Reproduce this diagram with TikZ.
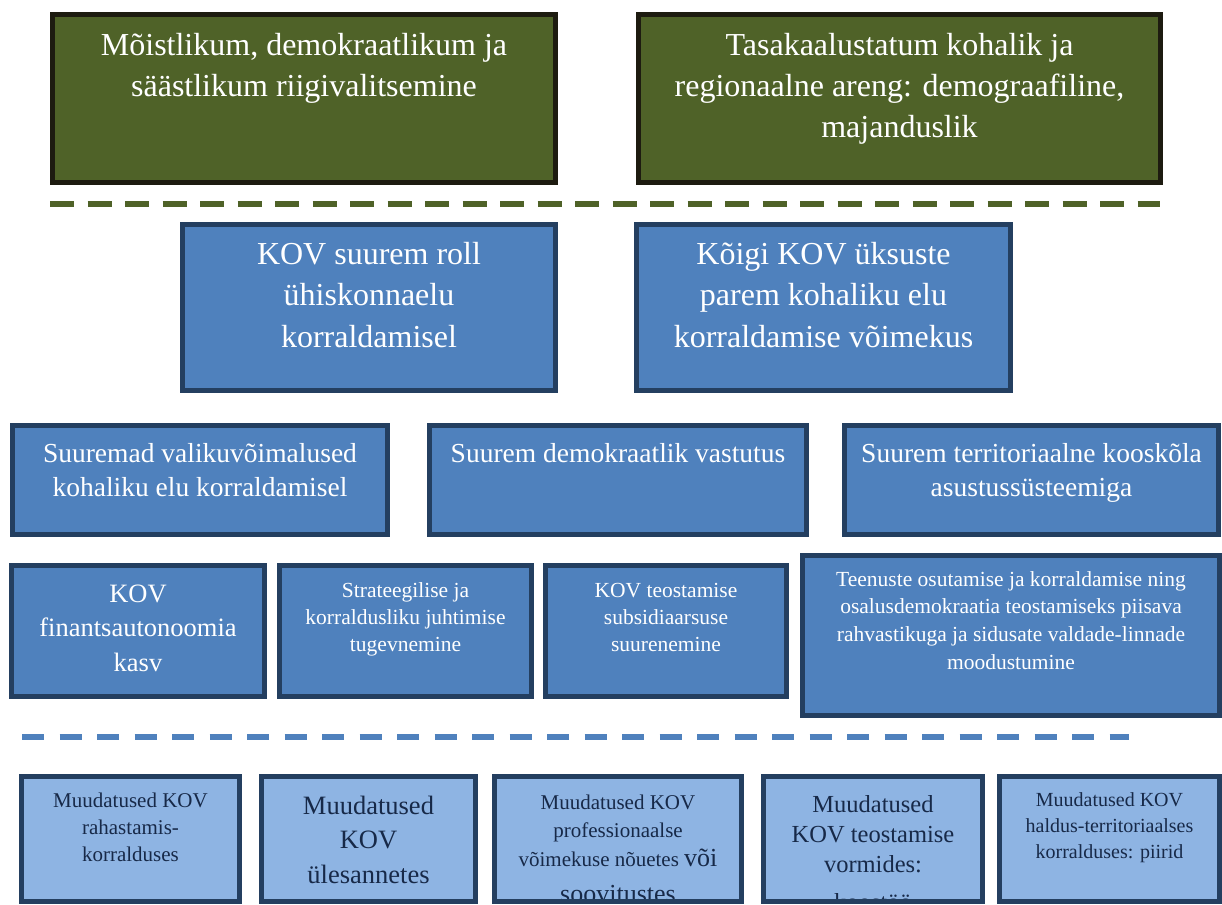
\documentclass[tikz,border=0pt]{standalone}
\usepackage{fontspec}
\setmainfont{Liberation Serif}
\usepackage{tikz}

\definecolor{goalgreen}{RGB}{79,98,40}
\definecolor{goaledge}{RGB}{29,27,16}
\definecolor{aimblue}{RGB}{79,129,189}
\definecolor{navyedge}{RGB}{36,63,96}
\definecolor{changeblue}{RGB}{142,180,227}
\definecolor{changetext}{RGB}{23,41,72}

\tikzset{
	panel/.style={rectangle, inner sep=0pt, outer sep=0pt, line width=5pt},
	goalbox/.style={panel, draw=goaledge, fill=goalgreen},
	aimbox/.style={panel, draw=navyedge, fill=aimblue},
	changebox/.style={panel, draw=navyedge, fill=changeblue},
	txt/.style={anchor=north, align=center, inner sep=0pt, text=white},
	darktxt/.style={txt, text=changetext},
	sepline/.style={line width=6pt, dash pattern=on 22pt off 15.5pt}
}

\begin{document}
\begin{tikzpicture}[x=1pt, y=-1pt]
		\useasboundingbox (0,0) rectangle (1222,904);
		\clip (0,0) rectangle (1222,904);

		\node[goalbox, minimum width=503, minimum height=168] (g1) at (304,98.5) {};
		\node[goalbox, minimum width=522, minimum height=168] (g2) at (899.5,98.5) {};
		\node[txt, font=\fontsize{32}{41}\selectfont] (g1t) at (304,26.3) {\strut Mõistlikum, demokraatlikum ja\\ säästlikum riigivalitsemine};
		\node[txt, font=\fontsize{32}{41}\selectfont] (g2t) at (899.5,26.3) {\strut Tasakaalustatum kohalik ja\\ regionaalne areng: demograafiline,\\ majanduslik};

		\coordinate (gl) at (50,204);
		\coordinate (gr) at (1160,204);
		\draw[sepline, goalgreen, dash pattern=on 24pt off 13.5pt] (gl) -- (gr);

		\node[aimbox, minimum width=373, minimum height=166] (a1) at (369,307.5) {};
		\node[aimbox, minimum width=374, minimum height=166] (a2) at (823.5,307.5) {};
		\node[txt, font=\fontsize{32}{41.5}\selectfont] (a1t) at (369,235) {\strut KOV suurem roll\\ ühiskonnaelu\\ korraldamisel};
		\node[txt, font=\fontsize{32}{41.5}\selectfont] (a2t) at (823.5,235) {\strut Kõigi KOV üksuste\\ parem kohaliku elu\\ korraldamise võimekus};

		\node[aimbox, minimum width=375, minimum height=109] (b1) at (200,480) {};
		\node[aimbox, minimum width=377, minimum height=109] (b2) at (618,480) {};
		\node[aimbox, minimum width=374, minimum height=109] (b3) at (1031.5,480) {};
		\node[txt, font=\fontsize{27.5}{34.5}\selectfont] (b1t) at (200,437.8) {\strut Suuremad valikuvõimalused\\ kohaliku elu korraldamisel};
		\node[txt, font=\fontsize{27.5}{34.5}\selectfont] (b2t) at (618,437.8) {\strut Suurem demokraatlik vastutus};
		\node[txt, font=\fontsize{27.5}{34.5}\selectfont] (b3t) at (1031.5,437.8) {\strut Suurem territoriaalne kooskõla\\ asustussüsteemiga};

		\node[aimbox, minimum width=253, minimum height=131] (c1) at (138,631) {};
		\node[aimbox, minimum width=252, minimum height=131] (c2) at (405.5,631) {};
		\node[aimbox, minimum width=241, minimum height=131] (c3) at (666,631) {};
		\node[aimbox, minimum width=417, minimum height=160] (c4) at (1011,635.5) {};
		\node[txt, font=\fontsize{26.5}{34.5}\selectfont] (c1t) at (138,577.8) {\strut KOV\\ finantsautonoomia\\ kasv};
		\node[txt, font=\fontsize{21.5}{27}\selectfont] (c2t) at (405.5,578.1) {\strut Strateegilise ja\\ korraldusliku juhtimise\\ tugevnemine};
		\node[txt, font=\fontsize{21.5}{27}\selectfont] (c3t) at (666,578.1) {\strut KOV teostamise\\ subsidiaarsuse\\ suurenemine};
		\node[txt, font=\fontsize{21.5}{27.7}\selectfont] (c4t) at (1011,566.6) {\strut Teenuste osutamise ja korraldamise ning\\ osalusdemokraatia teostamiseks piisava\\ rahvastikuga ja sidusate valdade-linnade\\ moodustumine};

		\coordinate (bl) at (22,737);
		\coordinate (br) at (1129,737);
		\draw[sepline, aimblue] (bl) -- (br);

		\node[changebox, minimum width=218, minimum height=125] (d1) at (130.5,839) {};
		\node[changebox, minimum width=214, minimum height=125] (d2) at (368.5,839) {};
		\node[changebox, minimum width=247, minimum height=125] (d3) at (618,839) {};
		\node[changebox, minimum width=219, minimum height=125] (d4) at (873,839) {};
		\node[changebox, minimum width=220, minimum height=125] (d5) at (1109.5,839) {};
		\begin{scope}
			\clip (0,776) rectangle (1222,898);
			\node[darktxt, font=\fontsize{21}{27}\selectfont] (d1t) at (130.5,788) {\strut Muudatused KOV\\ rahastamis-\\ korralduses};
			\node[darktxt, font=\fontsize{26.5}{34.5}\selectfont] (d2t) at (368.5,790) {\strut Muudatused\\ KOV\\ ülesannetes};
			\node[darktxt, font=\fontsize{21}{28.5}\selectfont] (d3t) at (618,789) {\strut Muudatused KOV\\ professionaalse\\ võimekuse nõuetes {\fontsize{26}{28.5}\selectfont või}\\[8pt] {\fontsize{26}{28.5}\selectfont soovitustes}};
			\node[darktxt, font=\fontsize{24.5}{30}\selectfont] (d4t) at (873,791) {\strut Muudatused\\ KOV teostamise\\ vormides:\\[8pt] koostöö};
			\node[darktxt, font=\fontsize{20}{26}\selectfont] (d5t) at (1109.5,788) {\strut Muudatused KOV\\ haldus-territoriaalses\\ korralduses: piirid};
		\end{scope}
\end{tikzpicture}
\end{document}
